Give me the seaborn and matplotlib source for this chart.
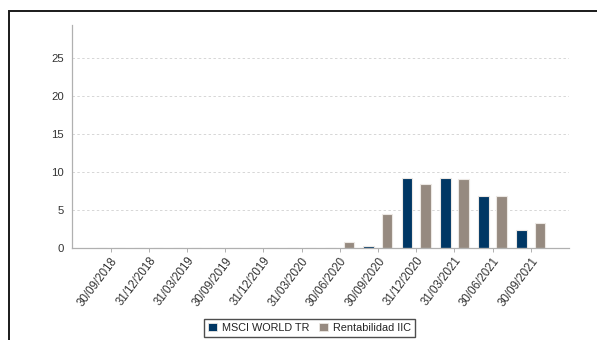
import matplotlib
matplotlib.use("Agg")
import matplotlib.pyplot as plt
from matplotlib.patches import Patch, Rectangle
import seaborn as sns
import pandas as pd

# Quarterly returns (%)
dates = ["30/09/2018", "31/12/2018", "31/03/2019", "30/09/2019", "31/12/2019",
         "31/03/2020", "30/06/2020", "30/09/2020", "31/12/2020", "31/03/2021",
         "30/06/2021", "30/09/2021"]
msci_world = [0, 0, 0, 0, 0, 0, 0, 0.2, 9.2, 9.2, 6.8, 2.3]
rentabilidad = [0, 0, 0, 0, 0, 0, 0.8, 4.5, 8.4, 9.0, 6.8, 3.3]
series_names = ["MSCI WORLD TR", "Rentabilidad IIC"]
colors = ["#003764", "#968a80"]

df = pd.concat([
    pd.DataFrame({"fecha": dates, "valor": msci_world, "serie": series_names[0]}),
    pd.DataFrame({"fecha": dates, "valor": rentabilidad, "serie": series_names[1]}),
])

sns.set_theme(style="white")
plt.rcParams["font.family"] = ["Liberation Sans", "DejaVu Sans"]

fig = plt.figure(figsize=(5.97, 3.40), dpi=100)
ax = fig.add_axes([0.1213, 0.2706, 0.8317, 0.6559])

sns.barplot(data=df, x="fecha", y="valor", hue="serie", order=dates,
            hue_order=series_names, palette=colors, width=0.96, gap=0.42,
            edgecolor="#ece8e4", linewidth=0.8, saturation=1, ax=ax,
            legend=False)

ax.set_xlim(-1, 12)
ax.set_ylim(0, 29.3)
ax.set_yticks([0, 5, 10, 15, 20, 25])
ax.set_xlabel("")
ax.set_ylabel("")

for y in [5, 10, 15, 20, 25]:
    ax.axhline(y, color="#d6d6d6", linewidth=0.7, linestyle=(0, (2.5, 2.5)),
               zorder=0)

for side in ["top", "right"]:
    ax.spines[side].set_visible(False)
for side in ["left", "bottom"]:
    ax.spines[side].set_color("#b0b0b0")
    ax.spines[side].set_linewidth(0.9)

ax.tick_params(axis="y", length=0, pad=6, labelsize=8.2, labelcolor="#333333")
ax.tick_params(axis="x", length=3, width=0.7, color="#b0b0b0", pad=2,
               labelsize=8.3, labelcolor="#333333", bottom=True)
plt.setp(ax.get_xticklabels(), rotation=53, ha="right", rotation_mode="anchor")

handles = [Patch(facecolor=c, edgecolor="#ece8e4", linewidth=0.6) for c in colors]
leg = fig.legend(handles, series_names, loc="center",
                 bbox_to_anchor=(0.519, 0.035), ncol=2, frameon=True,
                 fancybox=False, shadow=False, fontsize=7.8,
                 handlelength=0.8, handleheight=0.8, handletextpad=0.5,
                 columnspacing=0.9, borderpad=0.35, borderaxespad=0)
leg.get_frame().set_edgecolor("#222222")
leg.get_frame().set_linewidth(1.0)
for t in leg.get_texts():
    t.set_color("#222222")

# Outer frame around the panel
fig.patches.append(Rectangle((0.0151, -0.5), 2.0, 0.5 + 0.9676,
                             transform=fig.transFigure, fill=False,
                             edgecolor="#1a1a1a", linewidth=1.4))

fig.savefig("out.png", dpi=100)
